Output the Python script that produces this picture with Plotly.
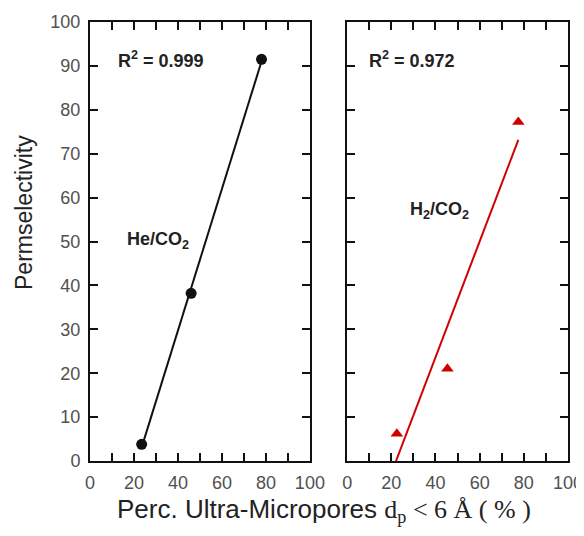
import numpy as np
import plotly.graph_objects as go

# ---- data ----
he_x = [23.5, 46.0, 78.0]
he_y = [3.8, 38.2, 91.5]
h2_x = [22.5, 45.4, 77.5]
h2_y = [6.2, 21.0, 77.2]
he_label = "He/CO<sub>2</sub>"
h2_label = "H<sub>2</sub>/CO<sub>2</sub>"
he_r2 = "R<sup>2</sup> = 0.999"
h2_r2 = "R<sup>2</sup> = 0.972"
tick_vals = list(range(0, 101, 10))
x_tick_text = [str(v) if v % 20 == 0 else "" for v in tick_vals]
y_tick_text = [str(v) for v in tick_vals]

# linear fits
he_m, he_b = np.polyfit(he_x, he_y, 1)
h2_m, h2_b = np.polyfit(h2_x, h2_y, 1)
he_fx = [min(he_x), max(he_x)]
he_fy = [he_m * x + he_b for x in he_fx]
h2_x0 = max(-h2_b / h2_m, 0)
h2_fx = [h2_x0, max(h2_x)]
h2_fy = [h2_m * x + h2_b for x in h2_fx]

BLACK = "#111111"
RED = "#d00000"
SANS = "Liberation Sans, Arial, sans-serif"

fig = go.Figure()
fig.add_trace(go.Scatter(x=he_fx, y=he_fy, mode="lines",
                         line=dict(color=BLACK, width=2), xaxis="x", yaxis="y"))
fig.add_trace(go.Scatter(x=he_x, y=he_y, mode="markers",
                         marker=dict(color=BLACK, size=11, symbol="circle"),
                         xaxis="x", yaxis="y"))
fig.add_trace(go.Scatter(x=h2_fx, y=h2_fy, mode="lines",
                         line=dict(color=RED, width=2), xaxis="x2", yaxis="y2"))
fig.add_trace(go.Scatter(x=h2_x, y=h2_y, mode="markers",
                         marker=dict(color=RED, size=11, symbol="triangle-up"),
                         xaxis="x2", yaxis="y2"))

tickfont = dict(family=SANS, size=18, color="#505050")
common = dict(range=[0, 100], showline=True, linewidth=2, linecolor=BLACK,
              mirror="allticks", ticks="inside", ticklen=8, tickwidth=2,
              tickcolor=BLACK, showgrid=False, zeroline=False, tickfont=tickfont,
              tickmode="array", tickvals=tick_vals, ticklabelstandoff=4)

fig.update_layout(
    width=576, height=520,
    margin=dict(l=82, r=16, t=14, b=67, autoexpand=False),
    paper_bgcolor="white", plot_bgcolor="white",
    showlegend=False,
    font=dict(family=SANS, color="#222222"),
    xaxis=dict(domain=[0, 0.460], ticktext=x_tick_text, anchor="y", **common),
    yaxis=dict(domain=[0, 1], ticktext=y_tick_text, anchor="x", **common),
    xaxis2=dict(domain=[0.538, 1], ticktext=x_tick_text, anchor="y2", **common),
    yaxis2=dict(domain=[0, 1], ticktext=y_tick_text, anchor="x2",
                showticklabels=False, **common),
)

ann_font = dict(family=SANS, size=18, color="#222222")
fig.add_annotation(x=32.5, y=91.5, xref="x", yref="y", text="<b>" + he_r2 + "</b>",
                   showarrow=False, font=ann_font)
fig.add_annotation(x=30.7, y=50.2, xref="x", yref="y", text="<b>" + he_label + "</b>",
                   showarrow=False, font=ann_font)
fig.add_annotation(x=29.4, y=91.5, xref="x2", yref="y2", text="<b>" + h2_r2 + "</b>",
                   showarrow=False, font=ann_font)
fig.add_annotation(x=42, y=57, xref="x2", yref="y2", text="<b>" + h2_label + "</b>",
                   showarrow=False, font=ann_font)

# axis titles
fig.add_annotation(x=-0.138, y=0.565, xref="paper", yref="paper", text="Permselectivity",
                   textangle=-90, showarrow=False, xanchor="center", yanchor="middle",
                   font=dict(family=SANS, size=23, color="#222222"))
xtitle = ("Perc. Ultra-Micropores "
          "<span style=\"font-family:'Liberation Serif', 'Times New Roman', serif\">"
          "d<sub>p</sub> &lt; 6 Å ( % )</span>")
fig.add_annotation(x=0.49, y=-0.112, xref="paper", yref="paper", text=xtitle,
                   showarrow=False, xanchor="center", yanchor="middle",
                   font=dict(family=SANS, size=26, color="#222222"))

fig.write_html("out.html")
